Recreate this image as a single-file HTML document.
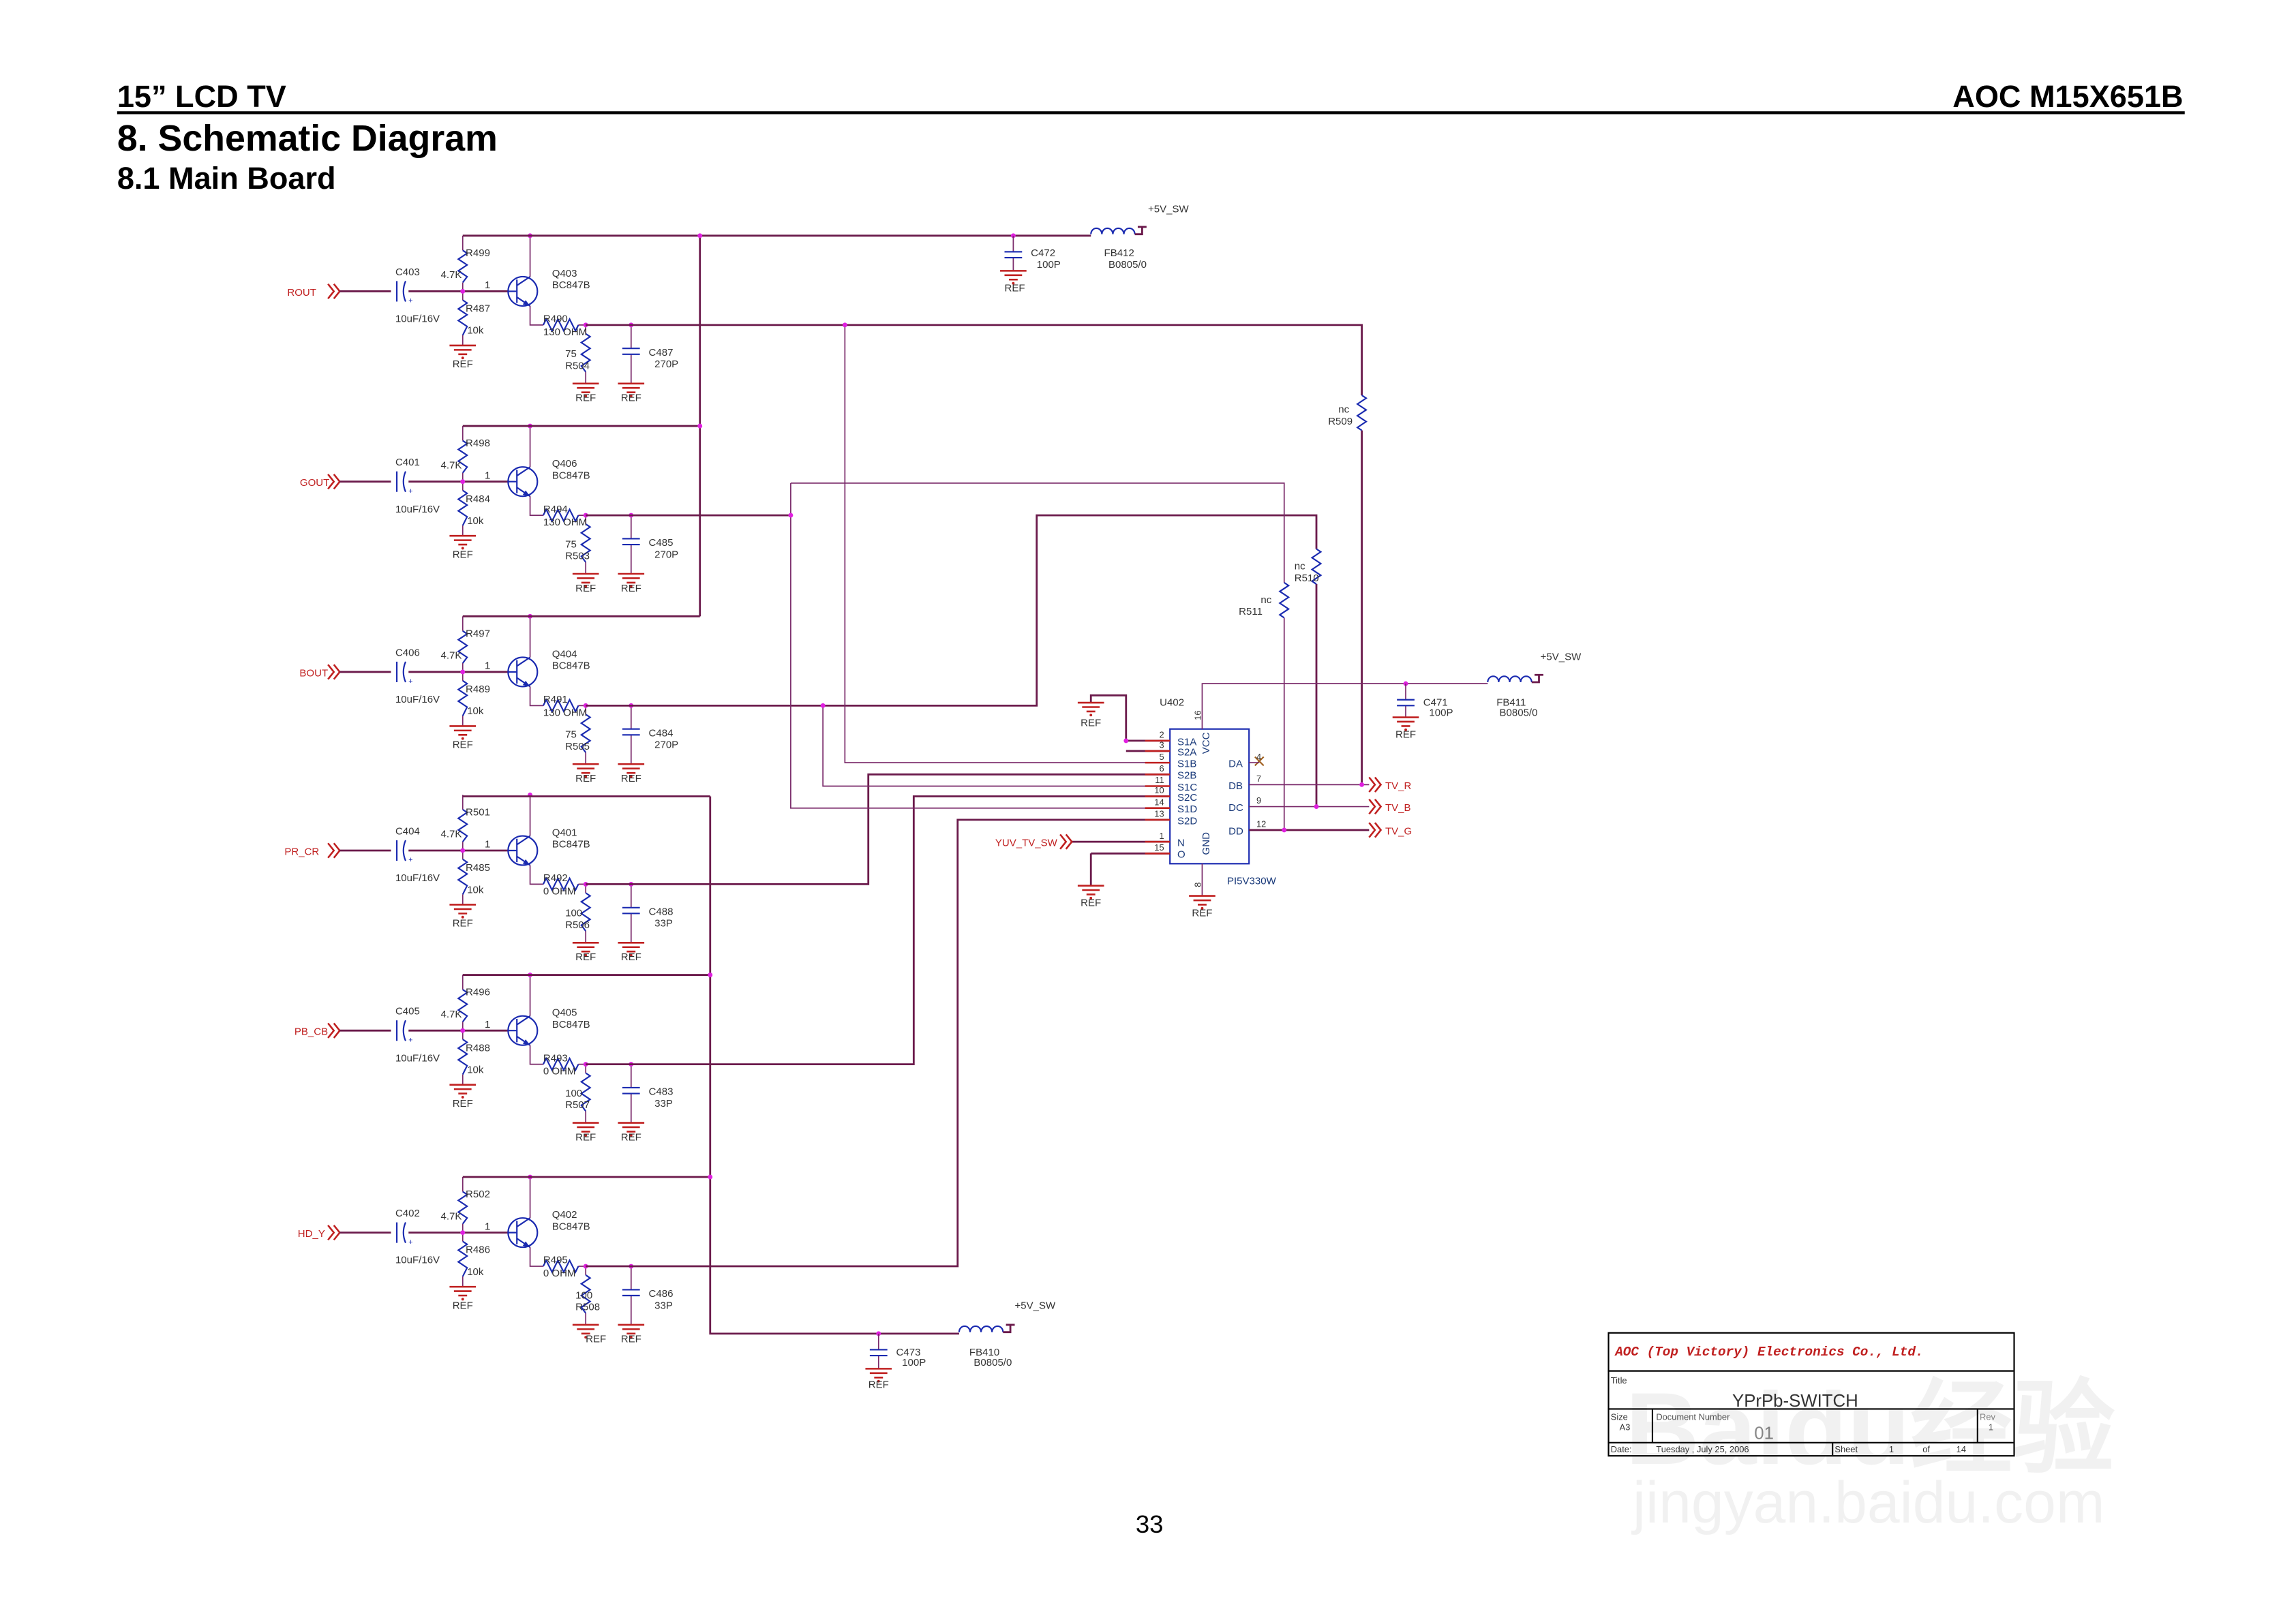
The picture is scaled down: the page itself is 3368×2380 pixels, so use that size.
<!DOCTYPE html>
<html><head><meta charset="utf-8"><style>
html,body{margin:0;padding:0;background:#fff;}
svg{display:block;}
text{font-family:"Liberation Sans",sans-serif;}
.s{font-size:7px;fill:#333;}
.r{font-size:7px;fill:#c02020;}
.b{font-size:7px;fill:#1a3a7a;}
.w{stroke:#6b1a4b;stroke-width:1.3;fill:none;}
.t{stroke:#7a2a6a;stroke-width:0.8;fill:none;}
.c{stroke:#1a2ab0;stroke-width:1;fill:none;}
.g{stroke:#c02020;stroke-width:1.2;fill:none;}
.n{fill:#e020e0;}
</style></head><body>
<svg width="3368" height="2380" viewBox="0 0 1568 1108" preserveAspectRatio="none" xmlns="http://www.w3.org/2000/svg">
<defs>
<g id="gnd"><path class="g" d="M-9 0h18M-6 3h12M-3 6h6"/><circle cx="0" cy="8.5" r="0.9" fill="#c02020"/></g>
<g id="stage">
 <path class="g" d="M224 194l4 5l-4 5M228 194l4 5l-4 5"/>
 <path class="w" d="M232 199H267M279 199H347"/>
 <path class="c" d="M271 192v14"/><path class="c" d="M277 192q-3 7 0 14"/>
 <text x="279" y="207" style="font-size:5px;fill:#1a2ab0">+</text>
 <path class="t" d="M316 161v10M316 193v6M316 199v6M316 229v7"/>
 <path class="c" d="M316 171l3 2l-6 4l6 4l-6 4l6 4l-3 4"/>
 <path class="c" d="M316 205l3 2l-6 4l6 4l-6 4l6 4l-3 6"/>
 <use href="#gnd" x="316" y="236"/>
 <circle class="c" cx="357" cy="199" r="10"/>
 <path class="c" d="M353 191v16M347 199h6M353 195l9 -6M353 203l9 6"/>
 <path fill="#1a2ab0" d="M362 209l-5 -1l2 -3z"/>
 <path class="t" d="M362 161v28M362 209v13H371M395 222H431"/>
 <path class="c" d="M371 222l2 -4l4 8l4 -8l4 8l4 -8l4 8l2 -4"/>
 <path class="t" d="M400 222v6M400 254v8M431 222v16M431 242v20"/>
 <path class="c" d="M400 228l3 2l-6 4l6 4l-6 4l6 4l-6 4l3 4"/>
 <path class="c" stroke-width="1.6" d="M425 238h12M425 242h12"/>
 <use href="#gnd" x="400" y="262"/><use href="#gnd" x="431" y="262"/>
 <circle class="n" cx="316" cy="199" r="1.6"/><circle class="n" cx="362" cy="161" r="1.6"/>
 <circle class="n" cx="400" cy="222" r="1.6"/><circle class="n" cx="431" cy="222" r="1.6"/>
</g>
<g id="ind"><path class="c" d="M0 0a3.7 4 0 0 1 7.5 0a3.7 4 0 0 1 7.5 0a3.7 4 0 0 1 7.5 0a3.7 4 0 0 1 7.5 0"/></g>
</defs>

<!-- header -->
<text x="80" y="73" style="font-size:21px;font-weight:bold;fill:#000">15” LCD TV</text>
<text x="1491" y="73" text-anchor="end" style="font-size:21px;font-weight:bold;fill:#000">AOC M15X651B</text>
<rect x="80" y="76" width="1412" height="2" fill="#000"/>
<text x="80" y="103" style="font-size:25px;font-weight:bold;fill:#000">8. Schematic Diagram</text>
<text x="80" y="129" style="font-size:21px;font-weight:bold;fill:#000">8.1 Main Board</text>

<!-- stages -->
<use href="#stage"/>
<use href="#stage" y="130"/>
<use href="#stage" y="260"/>
<use href="#stage" y="382"/>
<use href="#stage" y="505"/>
<use href="#stage" y="643"/>

<!-- rails -->
<path class="w" d="M316 161H745M316 291H478M316 421H478M478 161V421"/>
<circle class="n" cx="478" cy="161" r="1.6"/><circle class="n" cx="478" cy="291" r="1.6"/><circle class="n" cx="692" cy="161" r="1.6"/>
<use href="#ind" x="745" y="160"/>
<path class="w" d="M775 160h5v-5M777 155h6"/>
<text class="s" x="784" y="145">+5V_SW</text>
<path class="t" d="M692 161v11M692 176v9"/><path class="c" stroke-width="1.6" d="M686 172h12M686 176h12"/>
<use href="#gnd" x="692" y="185"/><text class="s" x="686" y="199">REF</text>
<text class="s" x="704" y="175">C472</text><text class="s" x="708" y="183">100P</text>
<text class="s" x="754" y="175">FB412</text><text class="s" x="757" y="183">B0805/0</text>

<path class="w" d="M316 544H485M316 666H485M316 804H485M485 544V911H655"/>
<circle class="n" cx="485" cy="666" r="1.6"/><circle class="n" cx="485" cy="804" r="1.6"/><circle class="n" cx="600" cy="911" r="1.6"/>
<use href="#ind" x="655" y="910"/>
<path class="w" d="M685 910h5v-5M687 905h6"/>
<text class="s" x="693" y="894">+5V_SW</text>
<path class="t" d="M600 911v11M600 926v9"/><path class="c" stroke-width="1.6" d="M594 922h12M594 926h12"/>
<use href="#gnd" x="600" y="935"/><text class="s" x="593" y="948">REF</text>
<text class="s" x="612" y="926">C473</text><text class="s" x="616" y="933">100P</text>
<text class="s" x="662" y="926">FB410</text><text class="s" x="665" y="933">B0805/0</text>

<!-- stage labels -->
<g class="s">
<text x="270" y="188">C403</text><text x="270" y="220">10uF/16V</text><text x="318" y="175">R499</text><text x="301" y="190">4.7K</text><text x="318" y="213">R487</text><text x="319" y="228">10k</text><text x="309" y="251">REF</text><text x="331" y="197">1</text><text x="377" y="189">Q403</text><text x="377" y="197">BC847B</text><text x="371" y="220">R490</text><text x="371" y="229">130 OHM</text><text x="386" y="244">75</text><text x="386" y="252">R504</text><text x="443" y="243">C487</text><text x="447" y="251">270P</text><text x="393" y="274">REF</text><text x="424" y="274">REF</text>
<text x="270" y="318">C401</text><text x="270" y="350">10uF/16V</text><text x="318" y="305">R498</text><text x="301" y="320">4.7K</text><text x="318" y="343">R484</text><text x="319" y="358">10k</text><text x="309" y="381">REF</text><text x="331" y="327">1</text><text x="377" y="319">Q406</text><text x="377" y="327">BC847B</text><text x="371" y="350">R494</text><text x="371" y="359">130 OHM</text><text x="386" y="374">75</text><text x="386" y="382">R503</text><text x="443" y="373">C485</text><text x="447" y="381">270P</text><text x="393" y="404">REF</text><text x="424" y="404">REF</text>
<text x="270" y="448">C406</text><text x="270" y="480">10uF/16V</text><text x="318" y="435">R497</text><text x="301" y="450">4.7K</text><text x="318" y="473">R489</text><text x="319" y="488">10k</text><text x="309" y="511">REF</text><text x="331" y="457">1</text><text x="377" y="449">Q404</text><text x="377" y="457">BC847B</text><text x="371" y="480">R491</text><text x="371" y="489">130 OHM</text><text x="386" y="504">75</text><text x="386" y="512">R505</text><text x="443" y="503">C484</text><text x="447" y="511">270P</text><text x="393" y="534">REF</text><text x="424" y="534">REF</text>
<text x="270" y="570">C404</text><text x="270" y="602">10uF/16V</text><text x="318" y="557">R501</text><text x="301" y="572">4.7K</text><text x="318" y="595">R485</text><text x="319" y="610">10k</text><text x="309" y="633">REF</text><text x="331" y="579">1</text><text x="377" y="571">Q401</text><text x="377" y="579">BC847B</text><text x="371" y="602">R492</text><text x="371" y="611">0 OHM</text><text x="386" y="626">100</text><text x="386" y="634">R506</text><text x="443" y="625">C488</text><text x="447" y="633">33P</text><text x="393" y="656">REF</text><text x="424" y="656">REF</text>
<text x="270" y="693">C405</text><text x="270" y="725">10uF/16V</text><text x="318" y="680">R496</text><text x="301" y="695">4.7K</text><text x="318" y="718">R488</text><text x="319" y="733">10k</text><text x="309" y="756">REF</text><text x="331" y="702">1</text><text x="377" y="694">Q405</text><text x="377" y="702">BC847B</text><text x="371" y="725">R493</text><text x="371" y="734">0 OHM</text><text x="386" y="749">100</text><text x="386" y="757">R507</text><text x="443" y="748">C483</text><text x="447" y="756">33P</text><text x="393" y="779">REF</text><text x="424" y="779">REF</text>
<text x="270" y="831">C402</text><text x="270" y="863">10uF/16V</text><text x="318" y="818">R502</text><text x="301" y="833">4.7K</text><text x="318" y="856">R486</text><text x="319" y="871">10k</text><text x="309" y="894">REF</text><text x="331" y="840">1</text><text x="377" y="832">Q402</text><text x="377" y="840">BC847B</text><text x="371" y="863">R495</text><text x="371" y="872">0 OHM</text><text x="393" y="887">100</text><text x="393" y="895">R508</text><text x="443" y="886">C486</text><text x="447" y="894">33P</text><text x="400" y="917">REF</text><text x="424" y="917">REF</text>
</g>
<g class="r" text-anchor="end">
<text x="216" y="202">ROUT</text><text x="225" y="332">GOUT</text><text x="224" y="462">BOUT</text><text x="218" y="584">PR_CR</text><text x="224" y="707">PB_CB</text><text x="222" y="845">HD_Y</text>
</g>

<!-- routing -->
<path class="w" d="M400 222H930V536M400 482H708V352H899V551M400 352H540M400 604H593V529H799M400 727H624V544H799M400 865H654V560H799"/>
<path class="t" d="M577 222V521H799M540 330V552H799M540 330H877V567M562 482V537H799"/>
<path fill="#fff" d="M926 270h8v24h-8zM873 398h8v24h-8zM895 375h8v24h-8z"/>
<path class="c" d="M930 270l3 2l-6 4l6 4l-6 4l6 4l-6 4l3 2"/>
<path class="c" d="M877 398l3 2l-6 4l6 4l-6 4l6 4l-6 4l3 2"/>
<path class="c" d="M899 375l3 2l-6 4l6 4l-6 4l6 4l-6 4l3 2"/>
<text class="s" x="914" y="282">nc</text><text class="s" x="907" y="290">R509</text>
<text class="s" x="884" y="389">nc</text><text class="s" x="884" y="397">R510</text>
<text class="s" x="861" y="412">nc</text><text class="s" x="846" y="420">R511</text>
<circle class="n" cx="577" cy="222" r="1.6"/><circle class="n" cx="540" cy="352" r="1.6"/><circle class="n" cx="562" cy="482" r="1.6"/>

<!-- IC -->
<rect x="799" y="498" width="54" height="92" fill="none" stroke="#1a2ab0" stroke-width="1"/>
<path class="t" d="M821 498V467H1016M821 590V612M853 536H935M853 551H935"/>
<path class="w" stroke-width="1.8" d="M853 567H935"/>
<path class="w" d="M769 506V475H745V480M769 506H799M769 513H799M745 583H799M745 583V605M732 575H799"/>
<path class="g" d="M782 506h17M782 513h17M782 521h17M782 529h17M782 537h17M782 544h17M782 552h17M782 560h17M782 575h17M782 583h17"/>
<use href="#gnd" x="745" y="480"/><text class="s" x="738" y="496">REF</text>
<use href="#gnd" x="745" y="605"/><text class="s" x="738" y="619">REF</text>
<use href="#gnd" x="821" y="612"/><text class="s" x="814" y="626">REF</text>
<path d="M857 517l6 6M863 517l-6 6" stroke="#a06020" stroke-width="1"/>
<path class="t" d="M853 521h7"/>
<circle class="n" cx="769" cy="506" r="1.6"/><circle class="n" cx="930" cy="536" r="1.6"/><circle class="n" cx="899" cy="551" r="1.6"/><circle class="n" cx="877" cy="567" r="1.6"/>
<path class="g" d="M935 531l4 5l-4 5M939 531l4 5l-4 5M935 546l4 5l-4 5M939 546l4 5l-4 5M935 562l4 5l-4 5M939 562l4 5l-4 5M724 570l4 5l-4 5M728 570l4 5l-4 5"/>
<text class="r" x="946" y="539">TV_R</text><text class="r" x="946" y="554">TV_B</text><text class="r" x="946" y="570">TV_G</text>
<text class="r" x="722" y="578" text-anchor="end">YUV_TV_SW</text>
<text class="s" x="792" y="482">U402</text><text class="b" x="838" y="604">PI5V330W</text>
<g class="b"><text x="804" y="509">S1A</text><text x="804" y="516">S2A</text><text x="804" y="524">S1B</text><text x="804" y="532">S2B</text><text x="804" y="540">S1C</text><text x="804" y="547">S2C</text><text x="804" y="555">S1D</text><text x="804" y="563">S2D</text><text x="804" y="578">N</text><text x="804" y="586">O</text>
<text x="839" y="524">DA</text><text x="839" y="539">DB</text><text x="839" y="554">DC</text><text x="839" y="570">DD</text>
<text transform="translate(826,515) rotate(-90)">VCC</text><text transform="translate(826,584) rotate(-90)">GND</text></g>
<g class="s" text-anchor="end" style="font-size:6px"><text x="795" y="504">2</text><text x="795" y="511">3</text><text x="795" y="519">5</text><text x="795" y="527">6</text><text x="795" y="535">11</text><text x="795" y="542">10</text><text x="795" y="550">14</text><text x="795" y="558">13</text><text x="795" y="573">1</text><text x="795" y="581">15</text></g>
<g class="s" style="font-size:6px"><text x="858" y="519">4</text><text x="858" y="534">7</text><text x="858" y="549">9</text><text x="858" y="565">12</text>
<text transform="translate(820,492) rotate(-90)">16</text><text transform="translate(820,606) rotate(-90)">8</text></g>
<circle class="n" cx="960" cy="467" r="1.6"/>
<path class="t" d="M960 467v11M960 482v8"/><path class="c" stroke-width="1.6" d="M954 478h12M954 482h12"/>
<use href="#gnd" x="960" y="490"/><text class="s" x="953" y="504">REF</text>
<text class="s" x="972" y="482">C471</text><text class="s" x="976" y="489">100P</text>
<use href="#ind" x="1016" y="466"/>
<path class="w" d="M1046 466h5v-5M1048 461h6"/>
<text class="s" x="1052" y="451">+5V_SW</text>
<text class="s" x="1022" y="482">FB411</text><text class="s" x="1024" y="489">B0805/0</text>

<!-- title block -->
<g stroke="#000" fill="none" stroke-width="1">
<rect x="1098.5" y="910.5" width="277" height="84"/>
<path d="M1098 936.5H1375M1098 962.5H1375M1098 985.5H1375M1128.5 962V985M1350.5 962V985M1251.5 985V994"/>
</g>
<text x="1103" y="926" style="font-family:'Liberation Mono',monospace;font-size:9px;font-weight:bold;font-style:italic;fill:#c02020">AOC (Top Victory) Electronics Co., Ltd.</text>
<text x="1100" y="945" style="font-size:6px;fill:#333">Title</text>
<text x="1183" y="961" style="font-size:12px;fill:#333">YPrPb-SWITCH</text>
<text x="1100" y="970" style="font-size:6px;fill:#333">Size</text><text x="1106" y="977" style="font-size:6px;fill:#333">A3</text>
<text x="1131" y="970" style="font-size:6px;fill:#555">Document Number</text>
<text x="1198" y="983" style="font-size:12px;fill:#888">01</text>
<text x="1352" y="970" style="font-size:6px;fill:#888">Rev</text><text x="1358" y="977" style="font-size:6px;fill:#555">1</text>
<text x="1100" y="992" style="font-size:6px;fill:#333">Date:</text>
<text x="1131" y="992" style="font-size:6px;fill:#333">Tuesday , July  25, 2006</text>
<text x="1253" y="992" style="font-size:6px;fill:#333">Sheet</text><text x="1290" y="992" style="font-size:6px;fill:#333">1</text><text x="1313" y="992" style="font-size:6px;fill:#333">of</text><text x="1336" y="992" style="font-size:6px;fill:#333">14</text>
<text x="1110" y="1000" style="font-size:70px;font-weight:bold;fill:#000;opacity:0.05">Baidu经验</text>
<text x="1115" y="1040" style="font-size:40px;fill:#000;opacity:0.05">jingyan.baidu.com</text>

<text x="785" y="1047" text-anchor="middle" style="font-size:17px;fill:#000">33</text>
</svg>
</body></html>
